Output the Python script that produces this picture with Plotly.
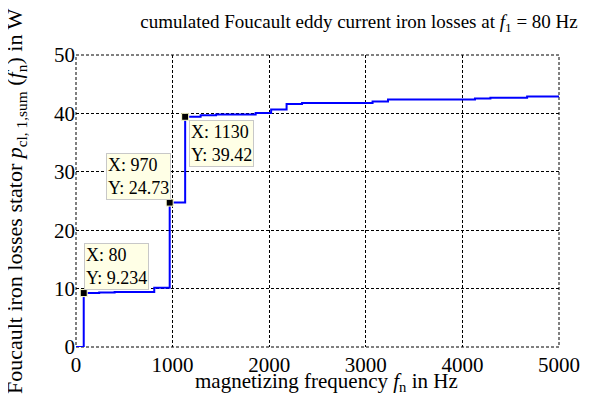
import plotly.graph_objects as go

# step data: cumulated losses vs harmonic frequency
freq_hz = [0, 80, 240, 400, 810, 970, 1130, 1290, 1450, 1860, 2020, 2180, 2340, 3070, 3230, 4130, 4290, 4670, 5000]
loss_w = [0, 9.234, 9.35, 9.4, 10.15, 24.73, 39.42, 39.7, 39.8, 40.05, 40.65, 41.6, 41.8, 42.05, 42.4, 42.55, 42.7, 42.9, 43.0]

# data tips
tip_x = [80, 970, 1130]
tip_y = [9.234, 24.73, 39.42]
tip_text = ["X: 80<br>Y: 9.234", "X: 970<br>Y: 24.73", "X: 1130<br>Y: 39.42"]
tip_xanchor = ["left", "right", "left"]
tip_yanchor = ["bottom", "bottom", "top"]

x_ticks = [0, 1000, 2000, 3000, 4000, 5000]
y_ticks = [0, 10, 20, 30, 40, 50]

FONT = "Liberation Serif"

fig = go.Figure()
fig.add_trace(go.Scatter(x=freq_hz, y=loss_w, mode="lines", line_shape="hv",
                         line=dict(color="#0000ff", width=2), showlegend=False, hoverinfo="skip"))
fig.add_trace(go.Scatter(x=tip_x, y=tip_y, mode="markers",
                         marker=dict(symbol="square", size=7, color="black",
                                     line=dict(color="#ffffcc", width=1)),
                         showlegend=False, hoverinfo="skip"))

shifts = [(0, 3), (1, 3), (4, -3)]
for xv, yv, t, xa, ya, (dx, dy) in zip(tip_x, tip_y, tip_text, tip_xanchor, tip_yanchor, shifts):
    fig.add_annotation(x=xv, y=yv, text=t, showarrow=False, xanchor=xa, yanchor=ya, align="left",
                       xshift=dx, yshift=dy, bgcolor="#ffffe6", bordercolor="#c8c8c8", borderwidth=1,
                       borderpad=1, font=dict(family=FONT, size=18, color="black"))

# axis titles as annotations for precise placement
fig.add_annotation(text="magnetizing frequency <i>f</i><sub>n</sub> in Hz", xref="paper", yref="paper",
                   x=0.519, y=-0.12, xanchor="center", yanchor="middle", showarrow=False,
                   font=dict(family=FONT, size=21, color="black"))
fig.add_annotation(text="Foucault iron losses stator <i>p</i><sub>cl, 1,sum</sub> (<i>f</i><sub>n</sub>) in W",
                   xref="paper", yref="paper", x=-0.124, y=0.5, xanchor="center", yanchor="middle",
                   textangle=-90, showarrow=False, font=dict(family=FONT, size=22, color="black"))

fig.update_layout(
    width=592, height=395,
    margin=dict(l=68, r=41, t=47, b=56, autoexpand=False),
    paper_bgcolor="white", plot_bgcolor="white",
    font=dict(family=FONT, size=20, color="black"),
    title=dict(text="cumulated Foucault eddy current iron losses at <i>f</i><sub>1</sub> = 80 Hz",
               x=0.593, xanchor="center", y=0.965, yanchor="middle",
               font=dict(family=FONT, size=19, color="black")),
)
fig.update_xaxes(range=[0, 5000], tickvals=x_ticks, ticktext=[str(v) for v in x_ticks],
                 showgrid=True, gridcolor="black", griddash="3px,2px", gridwidth=1,
                 zeroline=False, showline=False, ticks="", ticklen=0, automargin=False,
                 ticklabelstandoff=3, tickfont=dict(family=FONT, size=21))
fig.update_yaxes(range=[0, 50], tickvals=y_ticks, ticktext=[str(v) for v in y_ticks],
                 showgrid=True, gridcolor="black", griddash="3px,2px", gridwidth=1,
                 zeroline=False, showline=False, ticks="", ticklen=0, automargin=False,
                 tickfont=dict(family=FONT, size=21))
fig.add_shape(type="rect", xref="paper", yref="paper", x0=0, y0=0, x1=1, y1=1,
              line=dict(color="black", width=1, dash="3px,2px"), layer="below")

fig.write_html("out.html")
